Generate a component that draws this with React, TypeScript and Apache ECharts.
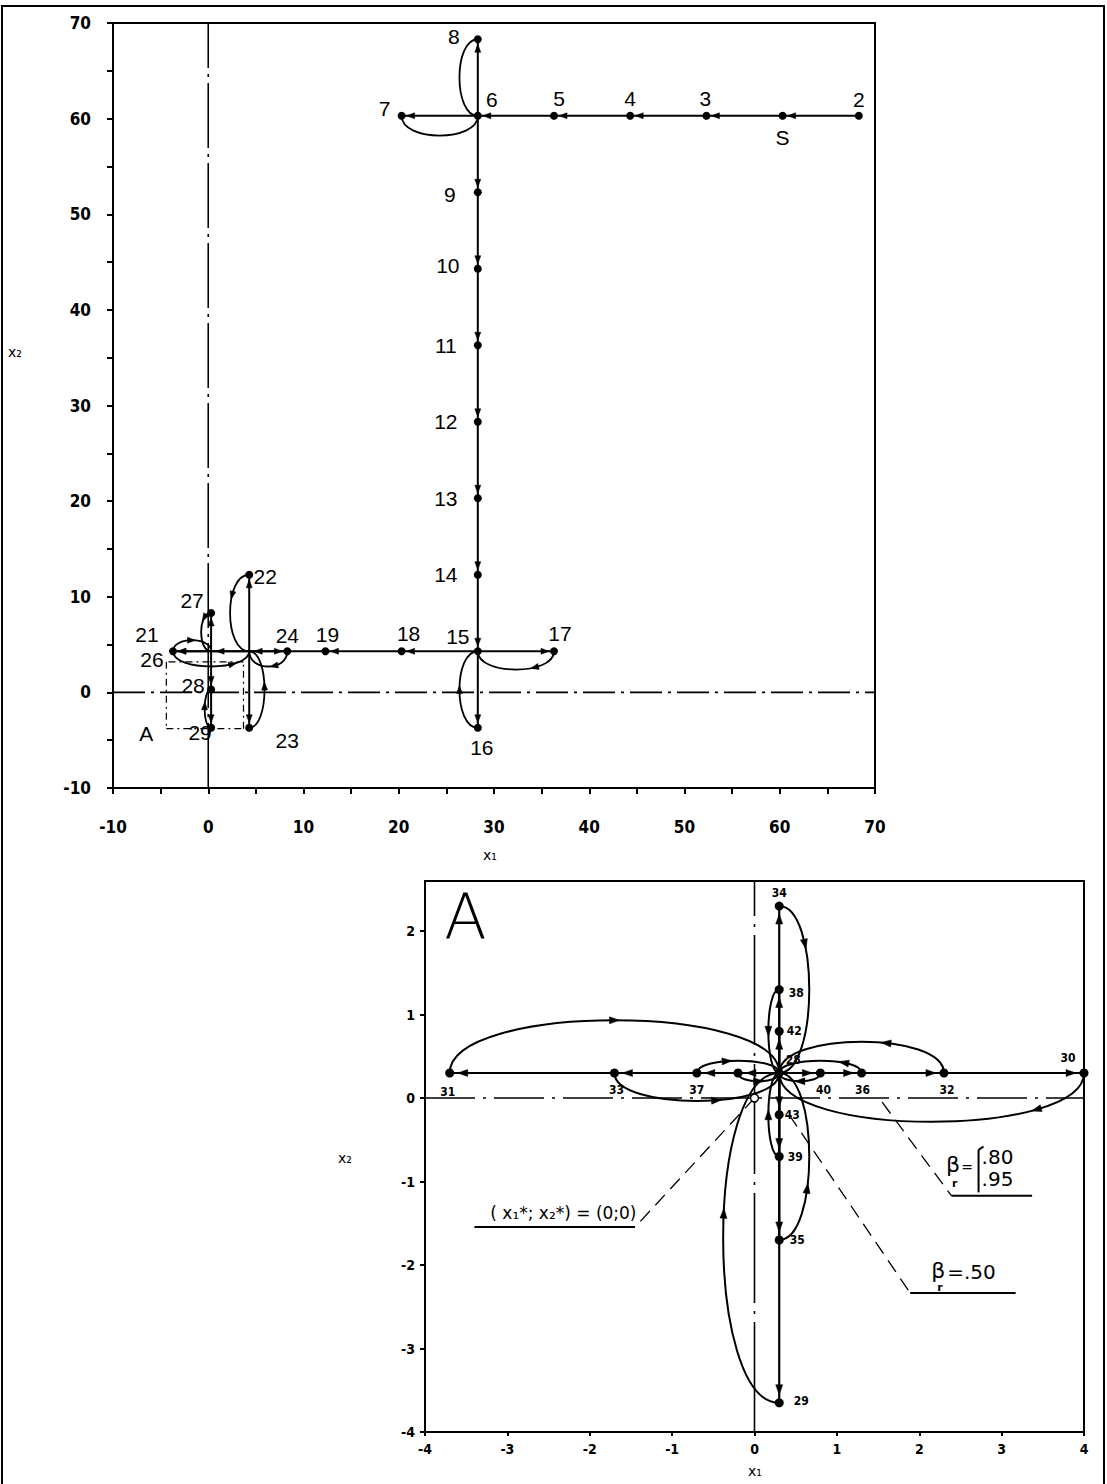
import React, { useEffect, useRef } from 'react';
import * as echarts from 'echarts';

// ---------------- Main plot (x1, x2 from -10 to 70) ----------------
const topIds = ['2', 'S', '3', '4', '5', '6', '7', '8', '9', '10', '11', '12', '13', '14', '15', '16', '17', '18', '19', '20', '21', '22', '23', '24', '25', '26', '27', '28', '29'];
const topX = [68.3, 60.3, 52.3, 44.3, 36.3, 28.3, 20.3, 28.3, 28.3, 28.3, 28.3, 28.3, 28.3, 28.3, 28.3, 28.3, 36.3, 20.3, 12.3, 4.3, -3.7, 4.3, 4.3, 8.3, 0.3, -3.7, 0.3, 0.3, 0.3];
const topY = [60.3, 60.3, 60.3, 60.3, 60.3, 60.3, 60.3, 68.3, 52.3, 44.3, 36.3, 28.3, 20.3, 12.3, 4.3, -3.7, 4.3, 4.3, 4.3, 4.3, 4.3, 12.3, -3.7, 4.3, 4.3, 4.3, 8.3, 0.3, -3.7];
const topUnlabeled = ['20', '25'];
const topNoDot = ['20', '25', '26'];
// straight moves (from, to)
const topMoves = [['2', 'S'], ['S', '3'], ['3', '4'], ['4', '5'], ['5', '6'], ['6', '7'], ['6', '8'], ['6', '9'], ['9', '10'], ['10', '11'], ['11', '12'], ['12', '13'], ['13', '14'], ['14', '15'], ['15', '16'], ['15', '17'], ['15', '18'], ['18', '19'], ['19', '20'], ['20', '21'], ['20', '22'], ['20', '23'], ['20', '24'], ['20', '25'], ['25', '26'], ['25', '27'], ['25', '28'], ['28', '29']];
// curved returns (from, to, bulge, arrow position)
const topReturns: [string, string, number, number][] = [['7', '6', 0.26, -1], ['8', '6', 0.24, -1], ['16', '15', -0.24, 0.5], ['17', '15', -0.24, 0.33], ['21', '20', 0.2, 0.7], ['22', '20', 0.25, 0.34], ['23', '20', 0.2, 0.53], ['24', '20', -0.4, 0.4], ['26', '25', -0.29, 0.49], ['27', '25', 0.26, 0.22], ['29', '28', -0.17, 0.55]];
const topAxisLinesV = [[0, -10, 0, 70]];
const topAxisLinesH = [[-10, 0, 70, 0]];
const topBoxA = [[-4.4, -3.8, 3.7, -3.8], [3.7, -3.8, 3.7, 3.2], [3.7, 3.2, -4.4, 3.2], [-4.4, 3.2, -4.4, -3.8]];
const topNotes = [['A', -6.5, -4.3]];

// ---------------- Detail A (x1 from -4 to 4, x2 from -4 to 2.6) ----------------
const aIds = ['28', '29', '30', '31', '32', '33', '34', '35', '36', '37', '38', '39', '40', '41', '42', '43'];
const aX = [0.3, 0.3, 4.0, -3.7, 2.3, -1.7, 0.3, 0.3, 1.3, -0.7, 0.3, 0.3, 0.8, -0.2, 0.3, 0.3];
const aY = [0.3, -3.65, 0.3, 0.3, 0.3, 0.3, 2.3, -1.7, 0.3, 0.3, 1.3, -0.7, 0.3, 0.3, 0.8, -0.2];
const aUnlabeled = ['41'];
const aMoves = [['28', '29'], ['28', '30'], ['28', '31'], ['28', '32'], ['28', '33'], ['28', '34'], ['28', '35'], ['28', '36'], ['28', '37'], ['28', '38'], ['28', '39'], ['28', '40'], ['28', '41'], ['28', '42'], ['28', '43']];
const aReturns: [string, string, number, number][] = [['29', '28', -0.17, 0.55], ['30', '28', -0.16, 0.25], ['31', '28', -0.16, 0.5], ['32', '28', 0.19, 0.4], ['33', '28', 0.17, 0.58], ['34', '28', -0.18, 0.31], ['35', '28', 0.18, 0.37], ['36', '28', 0.15, 0.3], ['37', '28', -0.15, 0.41], ['38', '28', 0.13, 0.5], ['39', '28', -0.13, 0.5], ['40', '28', -0.2, 0.5], ['41', '28', 0.2, 0.5]];
const aAxisLinesV = [[0, -4, 0, 2.6]];
const aAxisLinesH = [[-4, 0, 4, 0]];
const aOptimum = [[0, 0]];
const aLeadersDashed = [[0, 0, -1.45, -1.545], [1.55, -0.05, 2.39, -1.17], [0.42, -0.2, 1.89, -2.335]];
const aLeadersSolid = [[-1.45, -1.545, -3.4, -1.545], [2.39, -1.17, 3.37, -1.17], [1.89, -2.335, 3.17, -2.335], [2.72, -0.62, 2.72, -1.13], [2.72, -0.62, 2.78, -0.58]];
const aBigLetter = [['A', -3.51, 2.17]];
const aNoteOptimum = [['( x₁*; x₂*) = (0;0)', -2.32, -1.38]];
const aNoteBeta = [['β', 2.41, -0.8], ['β', 2.23, -2.06]];
const aNoteSub = [['r', 2.43, -1.02], ['r', 2.25, -2.27]];
const aNoteEq = [['=', 2.58, -0.83]];
const aNoteValues = [['.80', 2.95, -0.71], ['.95', 2.95, -0.97]];
const aNoteValuesLeft = [['=.50', 2.34, -2.08]];

// ---------------- styles ----------------
const topLabelOffset: Record<string, number[]> = { '2': [0, -16], S: [0, 22], '3': [-1, -17], '4': [0, -17], '5': [5, -17], '6': [14, -16], '7': [-17, -7], '8': [-24, -3], '9': [-28, 2], '10': [-30, -3], '11': [-32, 0], '12': [-32, 0], '13': [-32, 0], '14': [-32, 0], '15': [-20, -15], '16': [4, 20], '17': [6, -18], '18': [7, -18], '19': [2, -17], '21': [-26, -17], '22': [16, 2], '23': [38, 13], '24': [0, -16], '26': [-21, 8], '27': [-19, -13], '28': [-18, -4], '29': [-11, 5] };
const aLabelOffset: Record<string, number[]> = { '28': [14, -13], '29': [22, -2], '30': [-16, -15], '31': [-2, 19], '32': [3, 17], '33': [2, 17], '34': [0, -13], '35': [18, 0], '36': [1, 17], '37': [0, 17], '38': [17, 3], '39': [16, 0], '40': [3, 17], '42': [15, 0], '43': [13, 0] };
const CONDENSED = '"DejaVu Sans Condensed", "Liberation Sans Narrow", "DejaVu Sans", sans-serif';

function lookup(ids: string[], xs: number[], ys: number[]) {
  const m: Record<string, number[]> = {};
  ids.forEach((id, i) => { m[id] = [xs[i], ys[i]]; });
  return m;
}

function arrowPts(cx: number, cy: number, ux: number, uy: number, len: number, hw: number) {
  const tx = cx + (ux * len) / 2, ty = cy + (uy * len) / 2;
  const bx = cx - (ux * len) / 2, by = cy - (uy * len) / 2;
  return [[tx, ty], [bx - uy * hw, by + ux * hw], [bx + uy * hw, by - ux * hw]];
}

function straightSeries(gi: number, segs: number[][], lineStyle: any, arrow: any) {
  return {
    type: 'custom', coordinateSystem: 'cartesian2d', xAxisIndex: gi, yAxisIndex: gi, clip: false, silent: true, z: 3,
    data: segs,
    renderItem: (_p: any, api: any) => {
      const a = api.coord([api.value(0), api.value(1)]);
      const b = api.coord([api.value(2), api.value(3)]);
      const children: any[] = [{ type: 'line', shape: { x1: a[0], y1: a[1], x2: b[0], y2: b[1] }, style: Object.assign({ stroke: '#000', fill: null }, lineStyle) }];
      if (arrow) {
        const dx = b[0] - a[0], dy = b[1] - a[1];
        const L = Math.hypot(dx, dy);
        if (L > arrow.gap + arrow.len + 2) {
          const ux = dx / L, uy = dy / L;
          const d = arrow.gap + arrow.len / 2;
          children.push({ type: 'polygon', shape: { points: arrowPts(b[0] - ux * d, b[1] - uy * d, ux, uy, arrow.len, arrow.hw) }, style: { fill: '#000', stroke: '#000', lineWidth: 0.5 } });
        }
      }
      return { type: 'group', children };
    },
  };
}

function arcSeries(gi: number, arcs: number[][], lineStyle: any, arrow: any) {
  return {
    type: 'custom', coordinateSystem: 'cartesian2d', xAxisIndex: gi, yAxisIndex: gi, clip: false, silent: true, z: 3,
    data: arcs,
    renderItem: (_p: any, api: any) => {
      const a = api.coord([api.value(0), api.value(1)]);
      const b = api.coord([api.value(2), api.value(3)]);
      const bulge = api.value(4);
      const t = api.value(5);
      const dx = b[0] - a[0], dy = b[1] - a[1];
      const L = Math.hypot(dx, dy);
      const nx = -dy / L, ny = dx / L;
      const k = (bulge * L) / 0.75;
      const c1 = [a[0] + nx * k, a[1] + ny * k];
      const c2 = [b[0] + nx * k, b[1] + ny * k];
      const children: any[] = [{ type: 'bezierCurve', shape: { x1: a[0], y1: a[1], x2: b[0], y2: b[1], cpx1: c1[0], cpy1: c1[1], cpx2: c2[0], cpy2: c2[1] }, style: Object.assign({ stroke: '#000', fill: null }, lineStyle) }];
      if (t >= 0) {
        const s = 1 - t;
        const px = s * s * s * a[0] + 3 * s * s * t * c1[0] + 3 * s * t * t * c2[0] + t * t * t * b[0];
        const py = s * s * s * a[1] + 3 * s * s * t * c1[1] + 3 * s * t * t * c2[1] + t * t * t * b[1];
        const tx = 3 * s * s * (c1[0] - a[0]) + 6 * s * t * (c2[0] - c1[0]) + 3 * t * t * (b[0] - c2[0]);
        const ty = 3 * s * s * (c1[1] - a[1]) + 6 * s * t * (c2[1] - c1[1]) + 3 * t * t * (b[1] - c2[1]);
        const tl = Math.hypot(tx, ty) || 1;
        children.push({ type: 'polygon', shape: { points: arrowPts(px, py, tx / tl, ty / tl, arrow.len, arrow.hw) }, style: { fill: '#000', stroke: '#000', lineWidth: 0.5 } });
      }
      return { type: 'group', children };
    },
  };
}

function textSeries(gi: number, notes: any[], label: any) {
  return {
    type: 'scatter', xAxisIndex: gi, yAxisIndex: gi, silent: true, z: 6, symbolSize: 0,
    itemStyle: { color: 'rgba(0,0,0,0)', opacity: 1 },
    data: notes.map((n) => ({ name: n[0], value: [n[1], n[2]] })),
    label: Object.assign({ show: true, position: 'inside', formatter: '{b}', color: '#000', opacity: 1, textBorderWidth: 0 }, label),
  };
}

function buildOption() {
  const T = lookup(topIds, topX, topY);
  const A = lookup(aIds, aX, aY);
  const topMoveSegs = topMoves.map(([f, t]) => [T[f][0], T[f][1], T[t][0], T[t][1]]);
  const topArcSegs = topReturns.map(([f, t, b, p]) => [T[f][0], T[f][1], T[t][0], T[t][1], b, p]);
  const aMoveSegs = aMoves.map(([f, t]) => [A[f][0], A[f][1], A[t][0], A[t][1]]);
  const aArcSegs = aReturns.map(([f, t, b, p]) => [A[f][0], A[f][1], A[t][0], A[t][1], b, p]);

  const axisCommon = {
    type: 'value',
    axisLine: { show: true, onZero: false, lineStyle: { color: '#000', width: 2 } },
    axisTick: { show: true, length: 6, lineStyle: { color: '#000', width: 2 } },
    splitLine: { show: false },
  };
  const topLabelFmt = (v: number) => (Math.abs(v % 10) < 1e-9 ? String(v) : '');

  return {
    animation: false,
    backgroundColor: '#fff',
    grid: [
      { left: 113, top: 23, width: 762, height: 765, show: true, borderColor: '#000', borderWidth: 2, backgroundColor: 'transparent' },
      { left: 425, top: 881, width: 659, height: 551, show: true, borderColor: '#000', borderWidth: 2, backgroundColor: 'transparent' },
    ],
    xAxis: [
      Object.assign({}, axisCommon, { gridIndex: 0, min: -10, max: 70, interval: 5, axisLabel: { formatter: topLabelFmt, margin: 30, color: '#000', fontFamily: CONDENSED, fontWeight: 'bold', fontSize: 17 } }),
      Object.assign({}, axisCommon, { gridIndex: 1, min: -4, max: 4, interval: 1, axisTick: { show: true, length: 4, lineStyle: { color: '#000', width: 2 } }, axisLabel: { margin: 10, color: '#000', fontFamily: CONDENSED, fontWeight: 'bold', fontSize: 14 } }),
    ],
    yAxis: [
      Object.assign({}, axisCommon, { gridIndex: 0, min: -10, max: 70, interval: 5, axisLabel: { formatter: topLabelFmt, margin: 22, color: '#000', fontFamily: CONDENSED, fontWeight: 'bold', fontSize: 17 } }),
      Object.assign({}, axisCommon, { gridIndex: 1, min: -4, max: 2.6, interval: 1, axisTick: { show: true, length: 5, lineStyle: { color: '#000', width: 2 } }, axisLabel: { margin: 10, showMaxLabel: false, color: '#000', fontFamily: CONDENSED, fontWeight: 'bold', fontSize: 14 } }),
    ],
    graphic: [
      { type: 'rect', silent: true, shape: { x: 2, y: 6, width: 1102, height: 1490 }, style: { fill: null, stroke: '#000', lineWidth: 2 } },
      { type: 'text', silent: true, x: 490, y: 855, style: { text: 'x₁', fontSize: 14, fontFamily: 'DejaVu Sans', fill: '#000', align: 'center', verticalAlign: 'middle' } },
      { type: 'text', silent: true, x: 15, y: 352, style: { text: 'x₂', fontSize: 14, fontFamily: 'DejaVu Sans', fill: '#000', align: 'center', verticalAlign: 'middle' } },
      { type: 'text', silent: true, x: 755, y: 1471, style: { text: 'x₁', fontSize: 14, fontFamily: 'DejaVu Sans', fill: '#000', align: 'center', verticalAlign: 'middle' } },
      { type: 'text', silent: true, x: 345, y: 1158, style: { text: 'x₂', fontSize: 14, fontFamily: 'DejaVu Sans', fill: '#000', align: 'center', verticalAlign: 'middle' } },
    ],
    series: [
      // reference axes and box (main plot)
      straightSeries(0, topAxisLinesV, { lineWidth: 1.6, lineDash: [65, 6, 3, 6] }, null),
      straightSeries(0, topAxisLinesH, { lineWidth: 1.6, lineDash: [32, 6, 3, 6] }, null),
      straightSeries(0, topBoxA, { lineWidth: 1.2, lineDash: [7, 4, 2, 4] }, null),
      // search path (main plot)
      straightSeries(0, topMoveSegs, { lineWidth: 2 }, { gap: 5, len: 8, hw: 3 }),
      arcSeries(0, topArcSegs, { lineWidth: 1.8 }, { len: 8, hw: 3 }),
      {
        type: 'scatter', xAxisIndex: 0, yAxisIndex: 0, silent: true, z: 5, symbol: 'circle',
        itemStyle: { color: '#000', opacity: 1 },
        data: topIds.map((id, i) => ({
          name: id, value: [topX[i], topY[i]],
          symbolSize: topNoDot.indexOf(id) >= 0 ? 0 : 8,
          label: { show: topUnlabeled.indexOf(id) < 0, offset: topLabelOffset[id] || [0, 0] },
        })),
        label: { position: 'inside', formatter: '{b}', color: '#000', opacity: 1, textBorderWidth: 0, fontSize: 21, fontFamily: '"Liberation Sans", "DejaVu Sans", sans-serif' },
      },
      textSeries(0, topNotes, { fontSize: 21, fontFamily: '"Liberation Sans", "DejaVu Sans", sans-serif' }),

      // detail A
      straightSeries(1, aAxisLinesV, { lineWidth: 1.6, lineDash: [110, 8, 3, 8] }, null),
      straightSeries(1, aAxisLinesH, { lineWidth: 1.6, lineDash: [50, 8, 3, 8] }, null),
      straightSeries(1, aLeadersDashed, { lineWidth: 1.3, lineDash: [14, 8] }, null),
      straightSeries(1, aLeadersSolid, { lineWidth: 2 }, null),
      straightSeries(1, aMoveSegs, { lineWidth: 2.2 }, { gap: 8, len: 10, hw: 3.5 }),
      arcSeries(1, aArcSegs, { lineWidth: 2 }, { len: 10, hw: 3.5 }),
      {
        type: 'scatter', xAxisIndex: 1, yAxisIndex: 1, silent: true, z: 5, symbol: 'circle',
        itemStyle: { color: '#fff', borderColor: '#000', borderWidth: 1.5, opacity: 1 },
        symbolSize: 8,
        data: aOptimum,
      },
      {
        type: 'scatter', xAxisIndex: 1, yAxisIndex: 1, silent: true, z: 5, symbol: 'circle',
        itemStyle: { color: '#000', opacity: 1 }, symbolSize: 9,
        data: aIds.map((id, i) => ({
          name: id, value: [aX[i], aY[i]],
          label: { show: aUnlabeled.indexOf(id) < 0, offset: aLabelOffset[id] || [0, 0] },
        })),
        label: { position: 'inside', formatter: '{b}', color: '#000', opacity: 1, textBorderWidth: 0, fontSize: 12, fontWeight: 'bold', fontFamily: CONDENSED },
      },
      textSeries(1, aBigLetter, { fontSize: 62, fontWeight: 200, fontFamily: '"DejaVu Sans", sans-serif' }),
      textSeries(1, aNoteOptimum, { fontSize: 17, fontFamily: '"DejaVu Sans", sans-serif' }),
      textSeries(1, aNoteBeta, { fontSize: 22, fontFamily: '"DejaVu Sans", sans-serif' }),
      textSeries(1, aNoteSub, { fontSize: 11, fontWeight: 'bold', fontFamily: '"DejaVu Sans", sans-serif' }),
      textSeries(1, aNoteEq, { fontSize: 14, fontFamily: '"DejaVu Sans", sans-serif' }),
      textSeries(1, aNoteValues, { fontSize: 20, fontFamily: '"DejaVu Sans", sans-serif' }),
      textSeries(1, aNoteValuesLeft, { fontSize: 20, align: 'left', fontFamily: '"DejaVu Sans", sans-serif' }),
    ],
  };
}

export default function App() {
  const ref = useRef<HTMLDivElement>(null);
  useEffect(() => {
    if (!ref.current) return;
    const chart = echarts.init(ref.current, null, { renderer: 'svg' });
    chart.setOption(buildOption() as any);
    return () => chart.dispose();
  }, []);
  return <div ref={ref} style={{ position: 'absolute', left: 0, top: 0, width: 1107, height: 1484, background: '#fff' }} />;
}
